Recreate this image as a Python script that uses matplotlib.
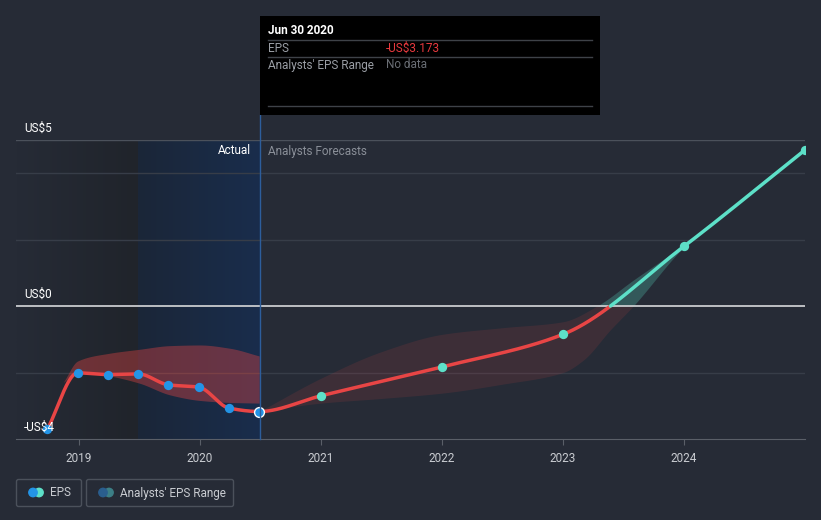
import numpy as np
import matplotlib
matplotlib.use('Agg')
import matplotlib.pyplot as plt
from matplotlib.colors import LinearSegmentedColormap
from matplotlib.patches import Rectangle, FancyBboxPatch, Circle

plt.rcParams['font.family'] = ['Roboto', 'DejaVu Sans']

# EPS history (quarter ends, as fraction of year) and analyst forecasts
act_x = [2018.74, 2018.99, 2019.24, 2019.49, 2019.74, 2019.99, 2020.24, 2020.49]
act_eps = [-3.70, -2.01, -2.06, -2.04, -2.37, -2.44, -3.07, -3.173]
fc_x = [2021.0, 2022.0, 2023.0, 2024.0, 2025.0]
fc_eps = [-2.70, -1.83, -0.85, 1.80, 4.70]

# analysts' range, past period
rng_past_x = [2018.87, 2018.99, 2019.25, 2019.5, 2019.75, 2020.0, 2020.25, 2020.49]
rng_past_hi = [-2.3, -1.65, -1.42, -1.3, -1.19, -1.17, -1.27, -1.5]
rng_past_lo = [-2.3, -1.97, -2.1, -2.32, -2.67, -2.84, -2.9, -2.92]

# analysts' range, forecast period
rng_hi_x = [2020.49, 2021.0, 2021.5, 2022.0, 2022.5, 2023.0, 2023.28, 2023.58, 2024.0, 2024.5, 2025.0]
rng_hi = [-3.173, -2.17, -1.37, -0.85, -0.65, -0.47, 0.0, 0.78, 1.85, 3.32, 4.78]
rng_lo_x = [2020.49, 2021.0, 2021.5, 2022.0, 2022.5, 2023.0, 2023.17, 2023.39, 2023.58, 2024.0, 2025.0]
rng_lo = [-3.173, -2.92, -2.78, -2.62, -2.35, -2.0, -1.62, -0.72, 0.0, 1.78, 4.70]

yticks = [5, 0, -4]
ytick_labels = ['US$5', 'US$0', '-US$4']
years = [2019, 2020, 2021, 2022, 2023, 2024]

BG = '#262b36'
RED = '#e84545'
TEAL = '#5de0c8'
BLUE = '#2394e6'


def smooth(xs, ys, xn):
    # monotone cubic (Fritsch-Carlson), only for drawing
    xs = np.asarray(xs, float); ys = np.asarray(ys, float)
    h = np.diff(xs); d = np.diff(ys) / h
    m = np.zeros_like(ys)
    m[0] = d[0]; m[-1] = d[-1]
    for k in range(1, len(xs) - 1):
        if d[k-1] * d[k] <= 0:
            m[k] = 0
        else:
            w1 = 2*h[k] + h[k-1]; w2 = h[k] + 2*h[k-1]
            m[k] = (w1 + w2) / (w1/d[k-1] + w2/d[k])
    i = np.clip(np.searchsorted(xs, xn) - 1, 0, len(xs) - 2)
    t = (xn - xs[i]) / h[i]
    h00 = 2*t**3 - 3*t**2 + 1; h10 = t**3 - 2*t**2 + t
    h01 = -2*t**3 + 3*t**2; h11 = t**3 - t**2
    return h00*ys[i] + h10*h[i]*m[i] + h01*ys[i+1] + h11*h[i]*m[i+1]


W, H = 821, 520
fig = plt.figure(figsize=(W/100, H/100), dpi=100, facecolor=BG)
x0, x1 = 16, 805
ytop, ybot = 140, 439
ax = fig.add_axes([x0/W, 1 - ybot/H, (x1-x0)/W, (ybot-ytop)/H])
ax.set_facecolor(BG)
xmin, xmax = 2018.48, 2025.0
ax.set_xlim(xmin, xmax)
ax.set_ylim(-4, 5)

# shaded past regions
cm1 = LinearSegmentedColormap.from_list('g1', [BG, '#20242b'])
ax.imshow(np.linspace(0, 1, 100)[None, :], cmap=cm1, extent=[xmin, 2019.49, -4, 5],
          aspect='auto', zorder=0)
cm2 = LinearSegmentedColormap.from_list('g2', ['#1b2638', '#192d4c'])
ax.imshow(np.linspace(0, 1, 100)[None, :], cmap=cm2, extent=[2019.49, 2020.49, -4, 5],
          aspect='auto', zorder=0)

# grid
for g in [-2, 2, 4]:
    ax.axhline(g, color='#373d48', lw=1, zorder=1)
ax.axhline(5, color='#4b515b', lw=1, zorder=1)
ax.axhline(0, color='#c9cbce', lw=1.3, zorder=3)

# past range band
xp = np.linspace(rng_past_x[0], rng_past_x[-1], 200)
ax.fill_between(xp, smooth(rng_past_x, rng_past_lo, xp), smooth(rng_past_x, rng_past_hi, xp),
                color=RED, alpha=0.38, lw=0, zorder=2)

# forecast range band, red below zero and teal above
xf = np.linspace(2020.49, 2025.0, 400)
hi = smooth(rng_hi_x, rng_hi, xf)
lo = smooth(rng_lo_x, rng_lo, xf)
ax.fill_between(xf, np.minimum(lo, 0), np.minimum(hi, 0), color=RED, alpha=0.12, lw=0, zorder=2)
ax.fill_between(xf, np.maximum(lo, 0), np.maximum(hi, 0), color=TEAL, alpha=0.25, lw=0, zorder=2)

# EPS line
all_x = act_x + fc_x
all_y = act_eps + fc_eps
xl = np.linspace(all_x[0], all_x[-1], 1200)
yl = smooth(all_x, all_y, xl)
neg = np.where(yl <= 0, yl, np.nan)
pos = np.where(yl >= 0, yl, np.nan)
ax.plot(xl, neg, color=RED, lw=2.5, zorder=4, solid_capstyle='round')
ax.plot(xl, pos, color=TEAL, lw=2.5, zorder=4, solid_capstyle='round')

ax.scatter(act_x[:-1], act_eps[:-1], s=45, color=BLUE, zorder=5, lw=0)
ax.scatter(act_x[-1:], act_eps[-1:], s=50, color=BLUE, edgecolor='white', lw=1, zorder=6)
ax.scatter(fc_x, fc_eps, s=45, color=TEAL, zorder=5, lw=0)

# axis styling
for s in ['top', 'right', 'left']:
    ax.spines[s].set_visible(False)
ax.spines['bottom'].set_color('#5a5f68')
ax.set_yticks([])
ax.set_xticks(years)
ax.set_xticklabels([str(y) for y in years])
ax.tick_params(axis='x', colors='#5a5f68', length=4, labelcolor='#c9ccd1', labelsize=8.5, pad=5)

# overlay in pixel coordinates
ov = fig.add_axes([0, 0, 1, 1])
ov.set_xlim(0, W)
ov.set_ylim(H, 0)
ov.axis('off')
ov.patch.set_alpha(0)

ov.plot([260, 260], [115, ybot], color='#2d5e9c', lw=1)

for v, lab in zip(yticks, ytick_labels):
    ypx = ytop + (5 - v) * (ybot - ytop) / 9
    ov.text(24, ypx - 12, lab, color='white', fontsize=8.5, va='center', ha='left', zorder=10)

ov.text(251, 151, 'Actual', color='white', fontsize=8.5, va='center', ha='right')
ov.text(268, 151, 'Analysts Forecasts', color='#8a8f98', fontsize=8.5, va='center', ha='left')

# tooltip
ov.add_patch(Rectangle((260, 16), 340, 99, facecolor='black', edgecolor='none', zorder=8))
for yy in [40, 57, 106]:
    ov.plot([268, 592], [yy, yy], color='#3e4248', lw=1, zorder=9)
ov.text(268, 31, 'Jun 30 2020', color='white', fontsize=8.5, fontweight='bold', va='center', zorder=10)
ov.text(268, 48, 'EPS', color='#9a9ea5', fontsize=8.5, va='center', zorder=10)
ov.text(386, 48, '-US$3.173', color='#e8393e', fontsize=8.5, va='center', zorder=10)
ov.text(268, 65, "Analysts' EPS Range", color='#9a9ea5', fontsize=8.5, va='center', zorder=10)
ov.text(386, 65, 'No data', color='#6a6e75', fontsize=8.5, va='center', zorder=10)

# legend
ov.add_patch(FancyBboxPatch((16.5, 479.5), 65, 27, boxstyle='round,pad=0,rounding_size=2',
                            facecolor='none', edgecolor='#4b515b', lw=1))
ov.add_patch(FancyBboxPatch((86.5, 479.5), 147, 27, boxstyle='round,pad=0,rounding_size=2',
                            facecolor='none', edgecolor='#4b515b', lw=1))
ov.add_patch(Circle((39, 492.5), 4.2, color=TEAL, zorder=5))
ov.add_patch(Circle((33, 492.5), 4.2, color=BLUE, zorder=6))
ov.add_patch(Circle((109, 492.5), 4.2, color='#3c7f86', zorder=5))
ov.add_patch(Circle((103, 492.5), 4.2, color='#2a5e8e', zorder=6))
ov.text(50, 493, 'EPS', color='#c9ccd1', fontsize=8.5, va='center')
ov.text(120, 493, "Analysts' EPS Range", color='#c9ccd1', fontsize=8.5, va='center')

fig.savefig('out.png', dpi=100, facecolor=BG)
